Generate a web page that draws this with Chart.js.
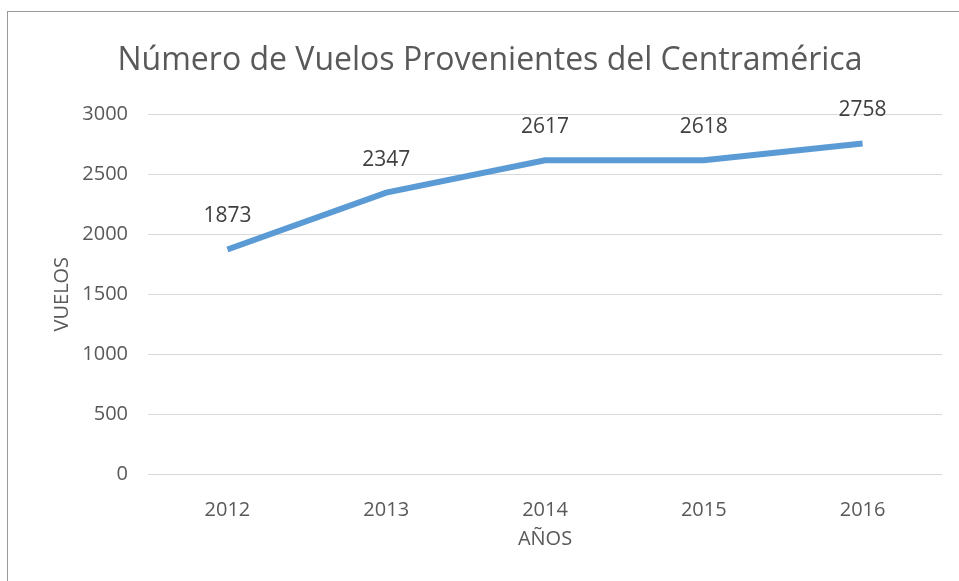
<!DOCTYPE html>
<html>
<head>
<meta charset="utf-8">
<script src="https://cdn.jsdelivr.net/npm/chart.js@4.4.1/dist/chart.umd.min.js"></script>
<style>
  body { margin: 0; background: #fff; }
  #wrap { position: relative; width: 959px; height: 581px; overflow: hidden; }
  #frame { position: absolute; left: 7px; top: 11px; width: 1000px; height: 700px;
           border-left: 1px solid #9a9a9a; border-top: 1px solid #9a9a9a; }
  #chart { position: absolute; left: 0; top: 0; }
</style>
</head>
<body>
<div id="wrap">
  <div id="frame"></div>
  <canvas id="chart" width="959" height="581"></canvas>
</div>
<script>
const years = ['2012', '2013', '2014', '2015', '2016'];
const vuelos = [1873, 2347, 2617, 2618, 2758];
const yTicks = [0, 500, 1000, 1500, 2000, 2500, 3000];

const FONT = "'Open Sans', sans-serif";

// value labels above each point
const valueLabels = {
  id: 'valueLabels',
  afterDatasetsDraw(chart) {
    const ctx = chart.ctx;
    const meta = chart.getDatasetMeta(0);
    ctx.save();
    ctx.font = "21px " + FONT;
    ctx.fillStyle = '#404040';
    ctx.textAlign = 'center';
    ctx.textBaseline = 'middle';
    meta.data.forEach((pt, i) => {
      ctx.fillText(String(vuelos[i]), pt.x, pt.y - 33);
    });
    ctx.restore();
  }
};

new Chart(document.getElementById('chart'), {
  type: 'line',
  data: {
    labels: years,
    datasets: [{
      data: vuelos,
      borderColor: '#5b9bd5',
      borderWidth: 6,
      pointRadius: 0,
      tension: 0,
      clip: false
    }]
  },
  options: {
    responsive: false,
    animation: false,
    layout: { padding: { left: 38, right: 17, top: 0, bottom: 0 } },
    plugins: {
      legend: { display: false },
      tooltip: { enabled: false },
      title: {
        display: true,
        text: 'Número de Vuelos Provenientes del Centramérica',
        color: '#595959',
        font: { family: FONT, size: 32, weight: 'normal' },
        padding: { top: 42, bottom: 34 }
      }
    },
    scales: {
      x: {
        offset: true,
        grid: { display: false },
        border: { display: false },
        ticks: { color: '#595959', font: { family: FONT, size: 20 }, padding: 16 },
        title: {
          display: true, text: 'AÑOS', color: '#595959',
          font: { family: FONT, size: 20 }, padding: { top: 30, bottom: 30 }
        },
        afterFit(scale) { scale.height = 107; }
      },
      y: {
        min: 0, max: 3000,
        afterBuildTicks(scale) { scale.ticks = yTicks.map(v => ({ value: v })); },
        grid: { color: '#d9d9d9', lineWidth: 1, drawTicks: false },
        border: { display: false },
        ticks: {
          color: '#595959', font: { family: FONT, size: 20 }, padding: 20,
          callback: v => String(v)
        },
        title: {
          display: true, text: 'VUELOS', color: '#595959',
          font: { family: FONT, size: 20 }, padding: { top: 12, bottom: 0 }
        },
        afterFit(scale) { scale.width = 110; }
      }
    }
  },
  plugins: [valueLabels]
});
</script>
</body>
</html>
